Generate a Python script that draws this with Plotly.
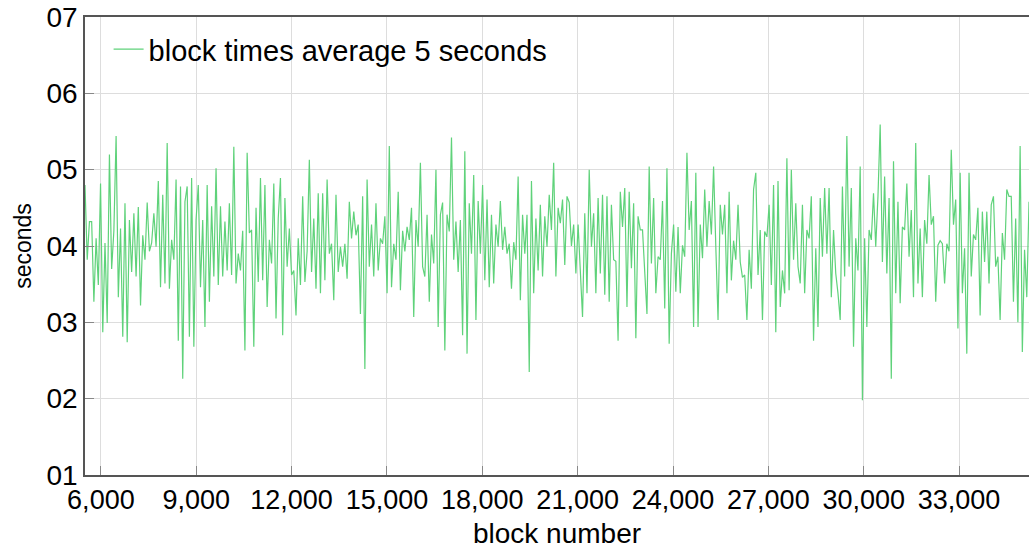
import numpy as np
import plotly.graph_objects as go

# block time samples (seconds), read left to right from the reference
seg1 = [4.8, 3.82, 4.32, 4.32, 3.27, 4.1, 3.49, 4.82, 2.87, 4.04, 2.99, 5.2, 3.7, 4.2, 5.44, 3.33, 4.23, 2.81,
        4.56, 2.74, 4.34, 3.66, 4.43, 3.6, 4.51, 3.22, 4.14, 3.82, 4.57, 3.93, 4.04, 4.43, 3.99, 4.85, 3.46,
        4.67, 3.51, 5.35, 3.44, 4.08, 3.82, 4.87, 2.76, 4.78, 2.26, 4.58, 4.78, 2.81, 4.89, 2.68, 4.34, 4.8,
        3.46, 4.34, 2.94, 4.8, 3.27, 4.52, 3.6, 5.02, 3.49, 4.52, 3.6, 4.32, 3.68, 4.56, 3.62, 5.3, 3.51, 3.9,
        3.68, 4.2, 2.63]
seg2 = [5.22, 4.17, 4.21, 2.68, 4.5, 3.53, 4.89, 3.55, 4.8, 3.2, 4.08, 3.77, 4.82, 3.05, 4.36, 4.89, 2.83,
        4.63, 3.73, 4.23, 3.62, 3.68, 3.09, 4.1, 3.49, 4.65, 3.53, 3.93, 5.13, 3.66, 4.36, 3.44, 4.69, 3.38,
        4.69, 3.55, 4.87, 3.9, 4.03, 3.29, 4.67, 3.66, 3.99, 3.73, 4.03, 3.57, 4.58, 4.1, 4.45, 4.14, 4.28,
        3.11, 4.65, 2.39, 4.87, 3.73, 4.28, 3.6, 4.56, 3.68, 4.1, 4.03, 4.39, 3.38, 5.31, 3.46, 4.03, 3.82,
        4.71, 3.42, 4.2, 3.93, 4.25]
seg3 = [4.08, 4.5, 3.07, 4.34, 3.99, 5.09, 3.73, 3.6, 4.41, 3.27, 4.15, 3.77, 5.0, 2.94, 4.41, 4.57, 2.63,
        4.41, 4.19, 5.42, 3.82, 4.32, 3.66, 4.34, 2.83, 5.24, 2.59, 4.56, 3.9, 4.93, 3.03, 4.59, 3.9, 4.8,
        3.55, 4.61, 3.46, 4.41, 3.51, 4.28, 3.99, 4.59, 3.95, 4.25, 3.9, 4.03, 3.44, 4.05, 3.82, 4.91, 3.29,
        4.41, 3.9, 4.41, 2.35, 4.85, 3.38, 4.36, 3.68, 4.54, 3.6, 4.39, 3.99, 4.67, 4.21, 5.09, 3.6, 4.5, 4.3,
        4.61, 3.75, 4.65, 4.57]
seg4 = [4.0, 4.28, 3.64, 4.28, 3.64, 3.07, 4.43, 3.38, 5.0, 3.99, 4.43, 3.38, 4.63, 3.64, 4.67, 3.36, 4.65,
        3.27, 4.54, 3.82, 3.8, 2.76, 4.71, 4.25, 4.76, 3.2, 4.71, 3.71, 4.56, 2.79, 4.39, 4.21, 4.21, 3.64,
        3.11, 5.04, 3.77, 4.63, 3.38, 3.86, 3.82, 4.59, 3.18, 5.02, 2.72, 3.9, 4.28, 3.4, 4.25, 3.38, 4.01,
        3.86, 5.22, 4.21, 4.59, 2.94, 4.96, 2.94, 4.28, 3.84, 4.74, 3.99, 4.59, 4.15, 5.04, 3.99]
seg5 = [3.03, 4.54, 4.15, 4.54, 3.38, 4.71, 3.55, 4.07, 3.82, 4.54, 3.79, 3.59, 3.62, 3.03, 3.95, 3.44, 4.74,
        4.96, 3.62, 4.21, 3.03, 4.19, 4.12, 4.54, 3.49, 4.8, 2.87, 4.85, 3.2, 3.68, 3.38, 5.15, 3.42, 5.0,
        3.82, 4.56, 3.73, 3.51, 4.54, 3.38, 4.21, 4.1, 4.65, 2.76, 3.97, 2.94, 4.63, 3.86, 4.76, 3.9, 4.76,
        3.33, 4.21, 3.64, 3.38, 3.03, 4.78, 3.6, 5.44, 3.73, 4.76, 2.68, 4.1, 3.68, 5.04, 1.98, 4.1, 2.94,
        4.21, 4.08, 4.69, 3.99, 4.65]
seg6 = [5.59, 3.79, 4.91, 3.64, 4.63, 2.26, 5.11, 3.38, 4.58, 3.25, 4.25, 4.21, 4.82, 3.86, 4.47, 3.33, 5.35,
        3.51, 4.23, 3.33, 4.34, 4.03, 4.93, 4.28, 4.39, 3.27, 4.01, 4.07, 4.03, 3.51, 4.03, 3.93, 5.26, 4.28,
        4.61, 2.92, 4.96, 3.38, 3.97, 2.59, 4.96, 3.6, 4.15, 4.08, 4.5, 3.09, 4.45, 3.79, 4.45, 3.51, 4.54,
        4.65, 3.73, 3.86, 3.03, 4.17, 3.82, 4.74, 4.65, 4.65, 3.27, 4.36, 3.0, 5.31, 2.61, 3.95, 3.33, 4.58]

seconds = seg1 + seg2 + seg3 + seg4 + seg5 + seg6
first_block = 5500
last_block = 35200
blocks = np.linspace(first_block, last_block, len(seconds))

x_ticks = [6000, 9000, 12000, 15000, 18000, 21000, 24000, 27000, 30000, 33000]
x_tick_text = ["6,000", "9,000", "12,000", "15,000", "18,000", "21,000", "24,000", "27,000", "30,000", "33,000"]
y_ticks = [1, 2, 3, 4, 5, 6, 7]
y_tick_text = ["01", "02", "03", "04", "05", "06", "07"]

FONT = "Liberation Sans, Arial, sans-serif"

fig = go.Figure()
fig.add_trace(go.Scatter(
    x=blocks, y=seconds, mode="lines",
    name="block times average 5 seconds",
    line=dict(color="#5fd27a", width=1.2),
))

fig.update_layout(
    width=1029, height=550,
    margin=dict(l=85, r=0, t=17, b=75),
    paper_bgcolor="white", plot_bgcolor="white",
    font=dict(family=FONT, color="black", size=28),
    showlegend=True,
    legend=dict(x=0.025, y=0.985, xanchor="left", yanchor="top",
                bgcolor="rgba(0,0,0,0)", font=dict(size=29, family=FONT),
                itemwidth=30),
    xaxis=dict(
        range=[first_block, last_block],
        tickvals=x_ticks, ticktext=x_tick_text,
        tickfont=dict(size=27, family=FONT),
        showgrid=True, gridcolor="#dddddd", gridwidth=1,
        showline=True, linecolor="#555555", linewidth=1.5, mirror=True,
        ticks="inside", ticklen=9, tickcolor="#888888",
        title=dict(text="block number", font=dict(size=28, family=FONT), standoff=9),
        zeroline=False,
    ),
    yaxis=dict(
        range=[1, 7],
        tickvals=y_ticks, ticktext=y_tick_text,
        tickfont=dict(size=28, family=FONT),
        showgrid=True, gridcolor="#dddddd", gridwidth=1,
        showline=True, linecolor="#555555", linewidth=1.5, mirror=False,
        ticks="inside", ticklen=9, tickcolor="#888888",
        title=dict(text="seconds", font=dict(size=23, family=FONT), standoff=8),
        zeroline=False,
    ),
)

fig.write_html("out.html")
